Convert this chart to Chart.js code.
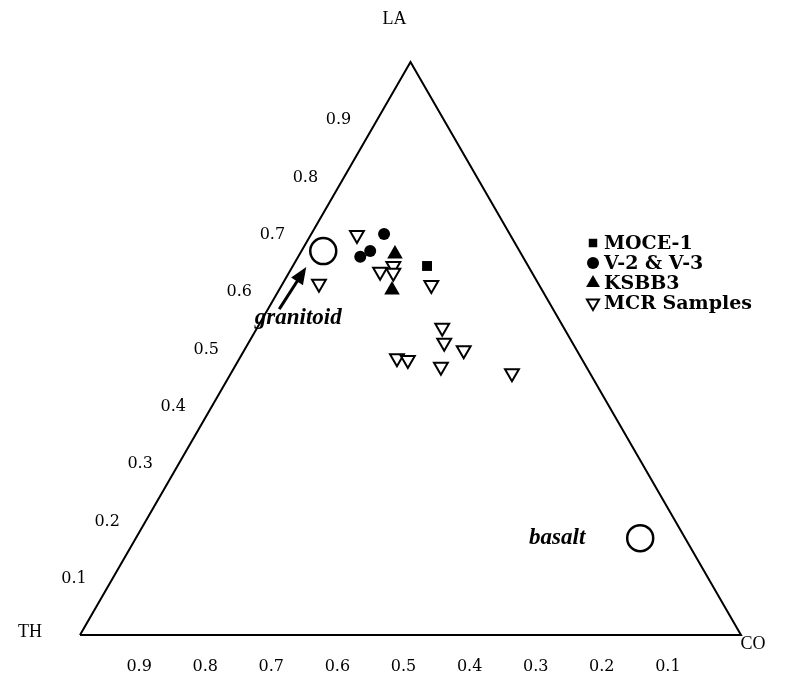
<!DOCTYPE html>
<html>
<head>
<meta charset="utf-8">
<script src="https://cdn.jsdelivr.net/npm/chart.js@4/dist/chart.umd.min.js"></script>
<style>
  body { margin: 0; background: #fff; }
  #wrap { width: 794px; height: 680px; position: relative; }
</style>
</head>
<body>
<div id="wrap"><canvas id="myChart"></canvas></div>
<script>
// ternary values: LA (top), TH (left), CO (right)
const laTicks = [0.1, 0.2, 0.3, 0.4, 0.5, 0.6, 0.7, 0.8, 0.9];
const thTicks = [0.9, 0.8, 0.7, 0.6, 0.5, 0.4, 0.3, 0.2, 0.1];

const refNames = ['granitoid', 'basalt'];
const refLA = [0.670, 0.169];
const refCO = [0.033, 0.763];

const moceLA = [0.644];
const moceCO = [0.203];

const vLA = [0.700, 0.670, 0.660];
const vCO = [0.110, 0.104, 0.094];

const ksbbLA = [0.665, 0.602];
const ksbbCO = [0.144, 0.171];

const mcrLA = [0.698, 0.613, 0.634, 0.644, 0.632, 0.611, 0.536, 0.510, 0.497, 0.483, 0.480, 0.468, 0.457];
const mcrCO = [0.070, 0.055, 0.137, 0.152, 0.158, 0.226, 0.280, 0.296, 0.332, 0.238, 0.256, 0.312, 0.425];

// corners of the diagram: TH, CO, LA, back to TH
const cornerLA = [0, 0, 1, 0];
const cornerCO = [0, 1, 0, 0];

function toXY(la, co) {
  return { x: co + la / 2, y: la };
}
function points(la, co) {
  return la.map((v, i) => toXY(v, co[i]));
}

const serif = '"DejaVu Serif", serif';
const times = '"Liberation Serif", serif';

const legendItems = [
  { text: 'MOCE-1', ds: 2 },
  { text: 'V-2 & V-3', ds: 3 },
  { text: 'KSBB3', ds: 4 },
  { text: 'MCR Samples', ds: 5 }
];

const ternaryExtras = {
  id: 'ternaryExtras',
  afterDatasetsDraw(chart) {
    const c = chart.ctx;
    const xs = chart.scales.x, ys = chart.scales.y;
    const px = p => ({ x: xs.getPixelForValue(p.x), y: ys.getPixelForValue(p.y) });
    c.save();
    c.fillStyle = '#000';
    c.strokeStyle = '#000';

    // LA ticks along left side
    c.font = '16px ' + serif;
    c.textAlign = 'center';
    c.textBaseline = 'middle';
    laTicks.forEach(v => {
      const p = px(toXY(v, 0));
      c.fillText(v.toFixed(1), p.x - 39, p.y + 1);
    });
    // TH ticks below the base
    thTicks.forEach(v => {
      const p = px(toXY(0, 1 - v));
      c.fillText(v.toFixed(1), p.x - 7, p.y + 32);
    });

    // corner names
    c.font = '18px ' + times;
    const la = px(toXY(1, 0)), th = px(toXY(0, 0)), co = px(toXY(0, 1));
    c.fillText('LA', la.x - 16, la.y - 43);
    c.fillText('TH', th.x - 50, th.y - 3);
    c.fillText('CO', co.x + 12, co.y + 9);

    // labels for the two reference rocks
    const g = px(toXY(refLA[0], refCO[0]));
    const b = px(toXY(refLA[1], refCO[1]));
    c.font = 'italic bold 23px ' + times;
    c.fillText(refNames[0], g.x - 25, g.y + 67);
    c.fillText(refNames[1], b.x - 83, b.y);

    // arrow to granitoid
    const tail = { x: g.x - 44, y: g.y + 58 };
    const tip = { x: g.x - 17, y: g.y + 16 };
    const ang = Math.atan2(tip.y - tail.y, tip.x - tail.x);
    c.lineWidth = 3;
    c.beginPath();
    c.moveTo(tail.x, tail.y);
    c.lineTo(tip.x - 10 * Math.cos(ang), tip.y - 10 * Math.sin(ang));
    c.stroke();
    c.beginPath();
    c.moveTo(tip.x, tip.y);
    c.lineTo(tip.x - 17 * Math.cos(ang) + 7 * Math.sin(ang), tip.y - 17 * Math.sin(ang) - 7 * Math.cos(ang));
    c.lineTo(tip.x - 17 * Math.cos(ang) - 7 * Math.sin(ang), tip.y - 17 * Math.sin(ang) + 7 * Math.cos(ang));
    c.closePath();
    c.fill();

    // legend
    c.font = 'bold 19px ' + serif;
    c.textAlign = 'left';
    const lx = 593;
    let ly = 243;
    legendItems.forEach(item => {
      const ds = chart.data.datasets[item.ds];
      c.fillStyle = ds.backgroundColor;
      c.strokeStyle = ds.borderColor;
      c.lineWidth = ds.borderWidth;
      Chart.helpers.drawPoint(c, {
        pointStyle: ds.pointStyle,
        radius: ds.legendRadius,
        rotation: ds.rotation || 0,
        borderWidth: ds.borderWidth
      }, lx, ly);
      c.fillStyle = '#000';
      c.fillText(item.text, lx + 11, ly + 1);
      ly += 20;
    });
    c.restore();
  }
};

new Chart(document.getElementById('myChart'), {
  type: 'scatter',
  data: {
    datasets: [
      {
        label: 'outline',
        data: points(cornerLA, cornerCO),
        showLine: true,
        borderColor: '#000',
        borderWidth: 2,
        pointRadius: 0,
        clip: false
      },
      {
        label: 'reference',
        data: points(refLA, refCO),
        pointStyle: 'circle',
        pointRadius: 13,
        backgroundColor: '#fff',
        borderColor: '#000',
        borderWidth: 2.5,
        clip: false
      },
      {
        label: 'MOCE-1',
        data: points(moceLA, moceCO),
        pointStyle: 'rect',
        pointRadius: 7,
        legendRadius: 6,
        backgroundColor: '#000',
        borderColor: '#000',
        borderWidth: 0,
        clip: false
      },
      {
        label: 'V-2 & V-3',
        data: points(vLA, vCO),
        pointStyle: 'circle',
        pointRadius: 6,
        legendRadius: 6,
        backgroundColor: '#000',
        borderColor: '#000',
        borderWidth: 0,
        clip: false
      },
      {
        label: 'KSBB3',
        data: points(ksbbLA, ksbbCO),
        pointStyle: 'triangle',
        pointRadius: 9,
        legendRadius: 8,
        backgroundColor: '#000',
        borderColor: '#000',
        borderWidth: 0,
        clip: false
      },
      {
        label: 'MCR Samples',
        data: points(mcrLA, mcrCO),
        pointStyle: 'triangle',
        rotation: 180,
        pointRotation: 180,
        pointRadius: 8,
        legendRadius: 7,
        backgroundColor: '#fff',
        borderColor: '#000',
        borderWidth: 2,
        clip: false
      }
    ]
  },
  options: {
    responsive: true,
    maintainAspectRatio: false,
    animation: false,
    layout: { padding: { left: 80, right: 53, top: 62, bottom: 45 } },
    scales: {
      x: { type: 'linear', min: 0, max: 1, display: false },
      y: { type: 'linear', min: 0, max: 1, display: false }
    },
    plugins: {
      legend: { display: false },
      tooltip: { enabled: false }
    }
  },
  plugins: [ternaryExtras]
});
</script>
</body>
</html>
